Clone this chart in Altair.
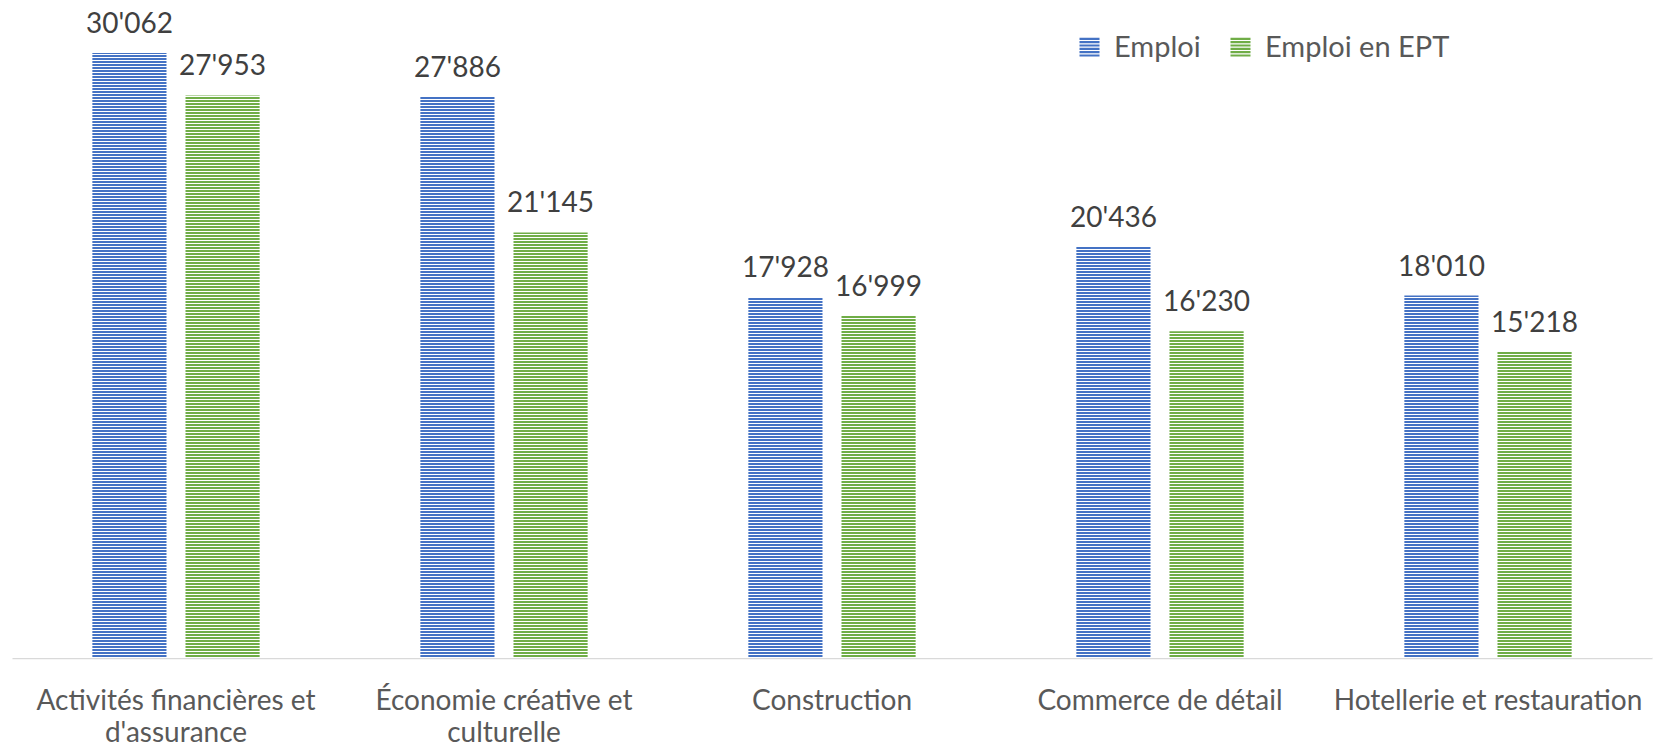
import altair as alt
import pandas as pd
import numpy as np

categories = [
    "Activités financières et|d'assurance",
    "Économie créative et|culturelle",
    "Construction",
    "Commerce de détail",
    "Hotellerie et restauration",
]
series = ["Emploi", "Emploi en EPT"]
emploi = [30062, 27886, 17928, 20436, 18010]
emploi_ept = [27953, 21145, 16999, 16230, 15218]

colors = ["#4472C4", "#70AD47"]
FONT = "Lato"
W, H = 1640, 644
YMAX = 32000

rows = []
for c, a, b in zip(categories, emploi, emploi_ept):
    rows.append({"cat": c, "serie": series[0], "val": a})
    rows.append({"cat": c, "serie": series[1], "val": b})
df = pd.DataFrame(rows)
df["lab"] = df["val"].map(lambda v: f"{v:,}".replace(",", "'"))

# decorative pattern: thin white lines every 3 px (Excel "narrow horizontal" fill)
px = H / YMAX
stripes = pd.DataFrame({"s": [(3 * k + 0.5) / px for k in range(int(H / 3))]})

y_scale = alt.Scale(domain=[0, YMAX], nice=False)

stripe_path = (
    "M-1,-1H1V-0.78H-1Z M-1,-0.667H1V-0.447H-1Z M-1,-0.333H1V-0.113H-1Z "
    "M-1,0H1V0.22H-1Z M-1,0.333H1V0.553H-1Z M-1,0.667H1V0.887H-1Z"
)

x_enc = alt.X(
    "cat:N",
    sort=categories,
    scale=alt.Scale(paddingInner=0.49, paddingOuter=0.245),
    axis=alt.Axis(
        title=None,
        labelExpr="split(datum.label, '|')",
        labelAngle=0,
        labelFont=FONT,
        labelFontSize=28,
        labelColor="#595959",
        labelPadding=29,
        labelLineHeight=32,
        labelLimit=0,
        ticks=False,
        domainColor="#D9D9D9",
        domainWidth=1.5,
        grid=False,
    ),
)
xo_enc = alt.XOffset("serie:N", sort=series, scale=alt.Scale(paddingInner=0.204))

bars = alt.Chart(df).mark_bar().encode(
    x=x_enc,
    xOffset=xo_enc,
    y=alt.Y("val:Q", scale=y_scale, axis=None),
    color=alt.Color(
        "serie:N",
        sort=series,
        scale=alt.Scale(domain=series, range=colors),
        legend=alt.Legend(
            title=None,
            orient="none",
            legendX=1063,
            legendY=19,
            direction="horizontal",
            labelFont=FONT,
            labelFontSize=29,
            labelColor="#595959",
            labelLimit=0,
            symbolType=stripe_path,
            symbolSize=400,
            symbolStrokeWidth=0,
            labelOffset=10,
            columnPadding=25,
        ),
    ),
)

stripe_layer = alt.Chart(stripes).mark_rule(color="white", strokeWidth=1).encode(
    y=alt.Y("s:Q", scale=y_scale, axis=None),
    x=alt.value(0),
    x2=alt.value(W),
)

text = alt.Chart(df).mark_text(
    dy=-20, baseline="alphabetic", font=FONT, fontSize=28, color="#404040"
).encode(
    x=alt.X("cat:N", sort=categories),
    xOffset=xo_enc,
    y=alt.Y("val:Q", scale=y_scale),
    text="lab:N",
)

chart = (
    alt.layer(bars, stripe_layer, text)
    .properties(
        width=W,
        height=H,
        padding={"left": 12, "top": 14, "right": 7, "bottom": 89},
        autosize=alt.AutoSizeParams(type="none"),
        background="white",
    )
    .configure_view(stroke=None)
)

chart.save("out.html", embed_options={"renderer": "svg", "actions": False})
